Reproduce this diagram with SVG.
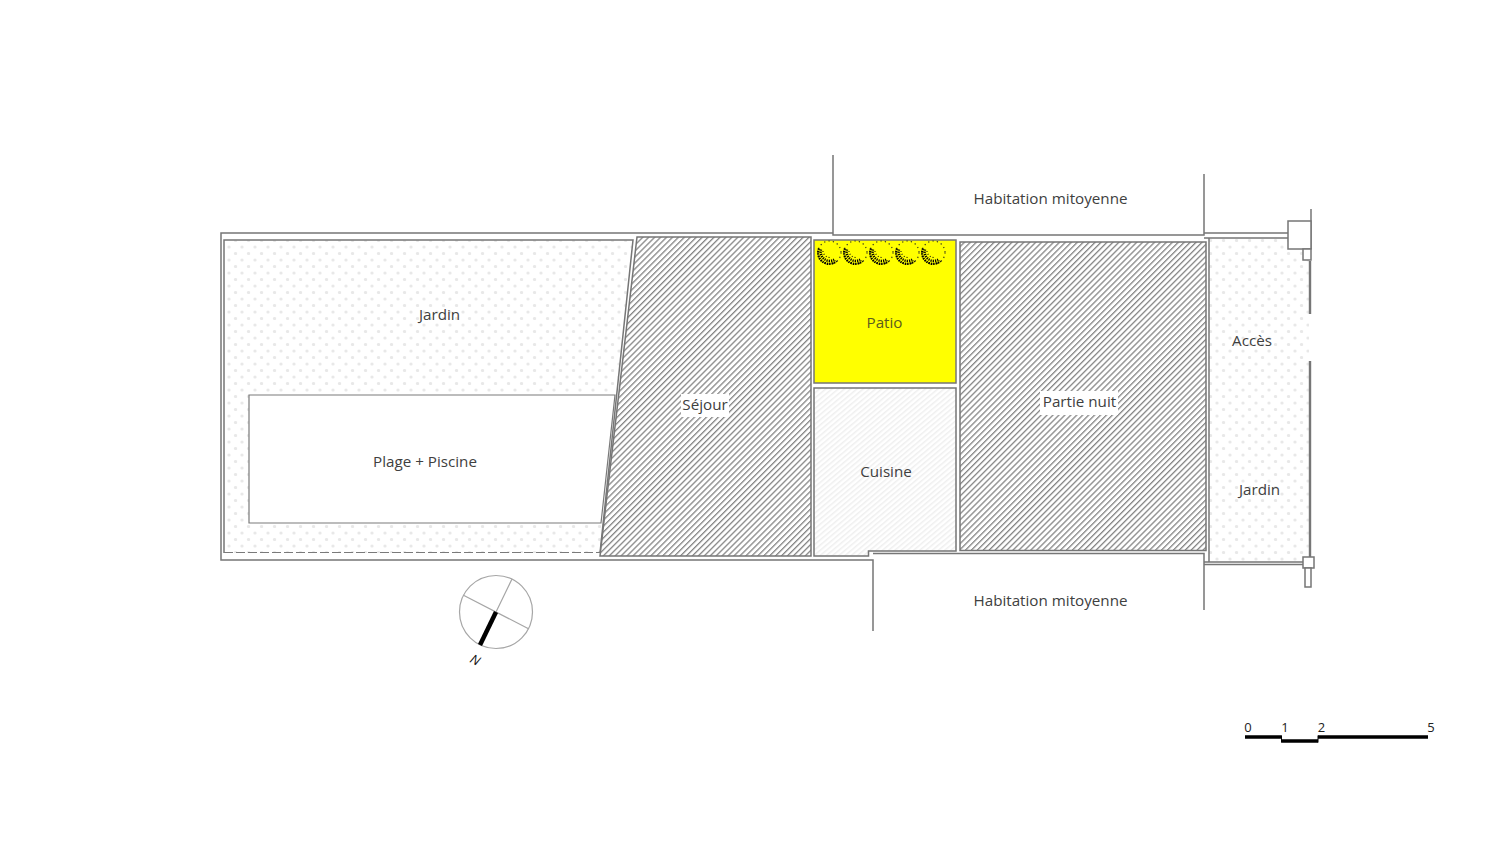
<svg xmlns="http://www.w3.org/2000/svg" width="1500" height="850" viewBox="0 0 1500 850">
<style>
text{font-family:"Open Sans","Noto Sans","Liberation Sans",sans-serif;font-size:15.2px;fill:#404040;text-anchor:middle}
.w{stroke:#767676;stroke-width:1.5}
.n{fill:none}
.t{stroke:#7a7a7a;stroke-width:1.2}
.lb{fill:#fff}
.num{font-size:13px;fill:#222}
</style>
<defs>
<pattern id="dots" width="13" height="13" patternUnits="userSpaceOnUse" x="224" y="240">
<rect width="13" height="13" fill="#fff"/>
<g fill="#e8e8e8"><circle cx="5" cy="7" r="1.600"/><circle cx="11.500" cy="0.500" r="1.600"/><circle cx="-1.500" cy="0.500" r="1.600"/><circle cx="11.500" cy="13.500" r="1.600"/><circle cx="-1.500" cy="13.500" r="1.600"/></g>
</pattern>
<pattern id="hatch" width="4.200" height="4.200" patternUnits="userSpaceOnUse" patternTransform="rotate(-45)">
<rect width="4.200" height="4.200" fill="#fff"/><rect width="4.200" height="1.300" fill="#858585"/>
</pattern>
<pattern id="fine" width="4" height="4" patternUnits="userSpaceOnUse" patternTransform="rotate(-40)">
<rect width="4" height="4" fill="#fff"/><rect width="4" height="1.500" fill="#efefef"/>
</pattern>
<g id="tree">
<circle r="11.500" fill="none" stroke="#222" stroke-width="1.100" stroke-dasharray="1.200 3.200"/>
<path d="M-10.500-4A11 11 0 0 0 7 8.500" fill="none" stroke="#000" stroke-width="2.200" stroke-dasharray="1.500 .9"/>
<path d="M-8.500-3A9 9 0 0 0 5 7" fill="none" stroke="#000" stroke-width="2.500" stroke-dasharray="1.200 1"/>
<path d="M-6.500-1.500A7 7 0 0 0 1 5" fill="none" stroke="#111" stroke-width="1.200" stroke-dasharray="1 2"/>
</g>
</defs>
<rect width="1500" height="850" fill="#fff"/>
<g id="jardin">
<path d="M224 240H633L600 553H224Z" fill="url(#dots)"/>
<path d="M224 553V240H633L600 553" class="w n"/>
<path d="M224 552.500H600" class="t n" stroke-dasharray="9 3"/>
<text x="439.500" y="320">Jardin</text>
</g>
<g id="plage">
<path d="M249 395H615L601 523H249Z" fill="#fff" class="t"/>
<text x="425" y="467">Plage + Piscine</text>
</g>
<g id="sejour">
<path d="M637 237H811V556H600Z" fill="url(#hatch)" class="w"/>
<rect x="681" y="394" width="48" height="23" class="lb"/>
<text x="705" y="410">Séjour</text>
</g>
<g id="patio">
<rect x="814" y="240" width="142" height="143" fill="#ff0" class="w"/>
<use href="#tree" x="829.500" y="252.500"/>
<use href="#tree" x="855.500" y="252.500"/>
<use href="#tree" x="881.500" y="252.500"/>
<use href="#tree" x="907.500" y="252.500"/>
<use href="#tree" x="933.500" y="252.500"/>
<text x="884.500" y="328" style="fill:#5c5c1e">Patio</text>
</g>
<g id="cuisine">
<path d="M814 388H956V551H868.500V556H814Z" fill="url(#fine)" class="w"/>
<text x="886" y="477">Cuisine</text>
</g>
<g id="partie-nuit">
<rect x="960" y="242" width="246" height="308.500" fill="url(#hatch)" class="w"/>
<rect x="1040" y="391" width="78" height="24" class="lb"/>
<text x="1079.500" y="407">Partie nuit</text>
</g>
<g id="acces">
<rect x="1209" y="239" width="100" height="322" fill="url(#dots)"/>
<path d="M1209 238V562" class="w n"/>
<text x="1252" y="346">Accès</text>
<text x="1259.500" y="495">Jardin</text>
</g>
<g id="walls">
<path class="w n" d="M833 155V235H1204V174"/>
<path class="w n" d="M833 233H221V560H873V631"/>
<path class="w n" d="M873 553.500H1204V610"/>
<path class="w n" d="M1204 233H1288M1204 238H1288"/>
<path class="w n" d="M1204 562H1303M1204 564.500H1303"/>
<path class="w n" d="M1311 209V249"/>
<path class="n" stroke="#767676" stroke-width="2.400" d="M1310 261V314M1310 361V557"/>
<rect class="w" x="1288" y="221" width="23" height="28" fill="#fff"/>
<rect class="w" x="1303" y="249" width="8" height="11" fill="#fff"/>
<rect class="w" x="1303" y="557" width="11" height="11" fill="#fff"/>
<rect class="w" x="1305" y="568" width="6" height="19" fill="#fff"/>
</g>
<g id="mitoyenne-haut"><text x="1050.500" y="203.500">Habitation mitoyenne</text></g>
<g id="mitoyenne-bas"><text x="1050.500" y="606">Habitation mitoyenne</text></g>
<g id="nord">
<circle cx="496" cy="612" r="36.500" fill="none" stroke="#a6a6a6" stroke-width="1.200"/>
<path d="M512 579L496 612M463 595L529 629" fill="none" stroke="#a6a6a6" stroke-width="1.200"/>
<path d="M496 612L480 645" stroke="#000" stroke-width="4.500" fill="none"/>
<text transform="translate(473 664) rotate(28)" style="font-size:13px;font-style:italic;fill:#111">N</text>
</g>
<g id="echelle">
<path d="M1245 737H1281.500M1318 737H1428" stroke="#000" stroke-width="3.500" fill="none"/>
<path d="M1281.500 741H1318" stroke="#000" stroke-width="3.500" fill="none"/>
<path d="M1281.500 735.500V742.500M1318 735.500V742.500" stroke="#000" stroke-width="1" fill="none"/>
<text class="num" x="1248" y="732">0</text><text class="num" x="1285" y="732">1</text><text class="num" x="1321.500" y="732">2</text><text class="num" x="1431" y="732">5</text>
</g>
</svg>
